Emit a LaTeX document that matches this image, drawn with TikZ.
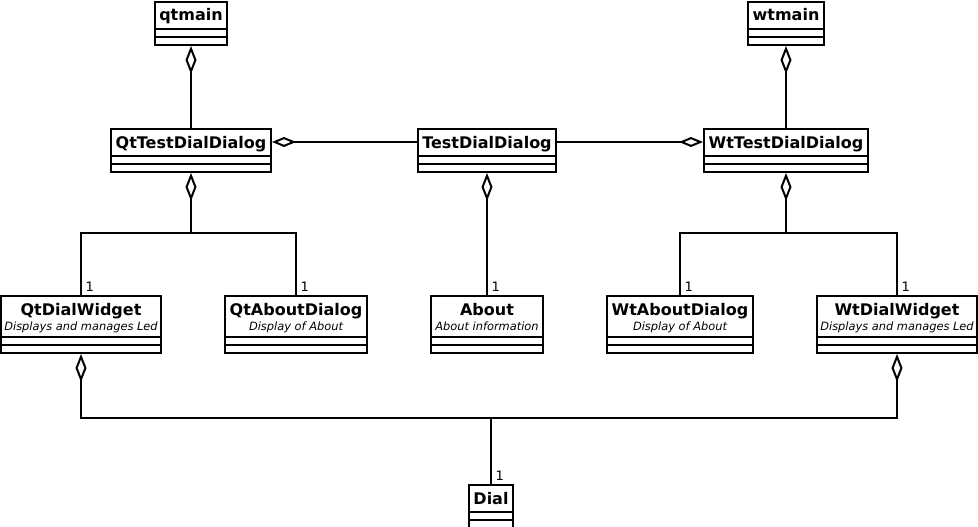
\documentclass[tikz,border=0pt]{standalone}
\usepackage{fontspec}
\setmainfont{DejaVu Sans}
\usetikzlibrary{shapes.multipart,arrows.meta}

% class name compartment, with and without a description line
\newcommand{\clsname}[1]{\rule[-7pt]{0pt}{25pt}{\fontsize{16}{18}\selectfont\bfseries #1}}
\newcommand{\clsdesc}[2]{\rule[-21pt]{0pt}{39pt}%
  \makebox[0pt]{\fontsize{16}{18}\selectfont\bfseries #1}%
  \makebox[0pt]{\raisebox{-15pt}[0pt][0pt]{\fontsize{11.4}{13}\selectfont\itshape #2}}}

\begin{document}
\begin{tikzpicture}[x=1pt,y=-1pt,line width=2pt,
    class_node/.style={rectangle split,rectangle split parts=3,draw,inner xsep=0pt,inner ysep=0pt,
      rectangle split empty part height=6pt,rectangle split empty part depth=0pt,anchor=north},
    agg_line/.style={{Diamond[open,length=28pt,width=11pt]}-},
    hagg_line/.style={{Diamond[open,length=24pt,width=10pt]}-},
    mult_label/.style={font=\fontsize{13}{15}\selectfont,inner sep=0pt,anchor=base west,xshift=3.5pt,yshift=4pt}]
    \useasboundingbox (0,0) rectangle (978,527);
    \node[class_node,minimum width=72pt] (qtmain) at (191,1) {\clsname{qtmain}};
    \node[class_node,minimum width=76pt] (wtmain) at (786,1) {\clsname{wtmain}};
    \node[class_node,minimum width=160pt] (qttest) at (191,128) {\clsname{QtTestDialDialog}};
    \node[class_node,minimum width=138pt] (test) at (487,128) {\clsname{TestDialDialog}};
    \node[class_node,minimum width=164pt] (wttest) at (786,128) {\clsname{WtTestDialDialog}};
    \node[class_node,minimum width=160pt] (qtdial) at (81,295) {\clsdesc{QtDialWidget}{Displays and manages Led}};
    \node[class_node,minimum width=142pt] (qtabout) at (296,295) {\clsdesc{QtAboutDialog}{Display of About}};
    \node[class_node,minimum width=112pt] (about) at (487,295) {\clsdesc{About}{About information}};
    \node[class_node,minimum width=146pt] (wtabout) at (680,295) {\clsdesc{WtAboutDialog}{Display of About}};
    \node[class_node,minimum width=160pt] (wtdial) at (897,295) {\clsdesc{WtDialWidget}{Displays and manages Led}};
    \node[class_node,minimum width=44pt] (dial) at (491,484) {\clsname{Dial}};

    \draw[agg_line] (qtmain.south) -- (qttest.north);
    \draw[agg_line] (wtmain.south) -- (wttest.north);
    \draw[hagg_line] ([yshift=-14pt]qttest.north east) -- ([yshift=-14pt]test.north west);
    \draw[hagg_line] ([yshift=-14pt]wttest.north west) -- ([yshift=-14pt]test.north east);

    \coordinate (qtjoin) at (qttest.south |- 0,233);
    \draw[agg_line] (qttest.south) -- (qtjoin) -| (qtdial.north) node[mult_label] {1};
    \draw (qtjoin) -| (qtabout.north) node[mult_label] {1};
    \draw[agg_line] (test.south) -- (about.north) node[mult_label] {1};
    \coordinate (wtjoin) at (wttest.south |- 0,233);
    \draw[agg_line] (wttest.south) -- (wtjoin) -| (wtabout.north) node[mult_label] {1};
    \draw (wtjoin) -| (wtdial.north) node[mult_label] {1};

    \coordinate (dialjoin) at (dial.north |- 0,418);
    \draw[agg_line] (qtdial.south) |- (dialjoin);
    \draw[agg_line] (wtdial.south) |- (dialjoin);
    \draw (dialjoin) -- (dial.north) node[mult_label] {1};
\end{tikzpicture}
\end{document}
